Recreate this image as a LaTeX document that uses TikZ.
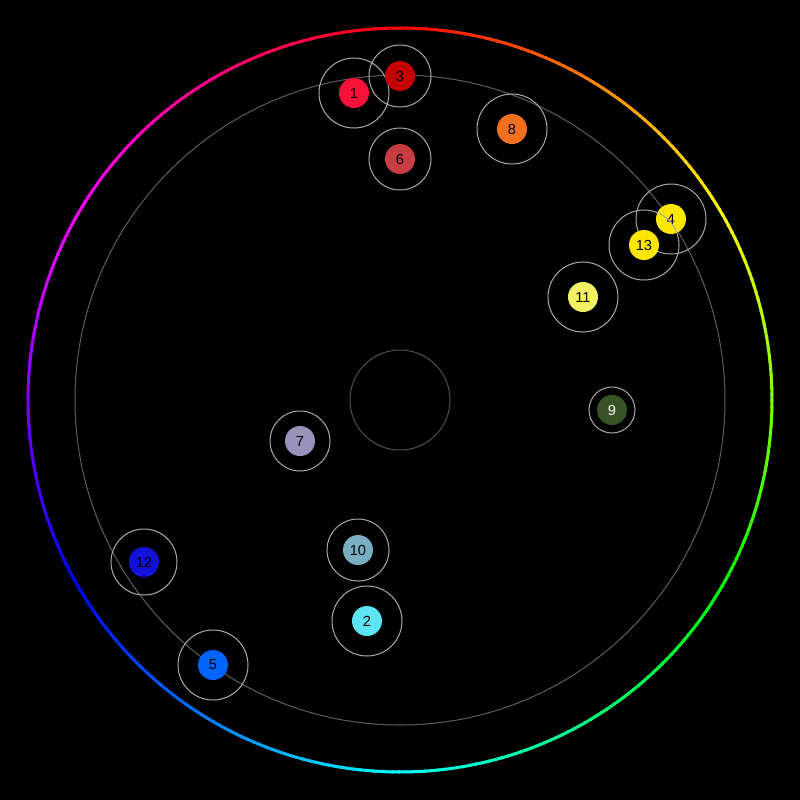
\documentclass[tikz,border=0pt]{standalone}
\usepackage{fontspec}
\setmainfont{Liberation Sans}
\usetikzlibrary{calc}
\definecolor{c1}{HTML}{F8123A}
\definecolor{c2}{HTML}{5CE4F4}
\definecolor{c3}{HTML}{C40004}
\definecolor{c4}{HTML}{FFE800}
\definecolor{c5}{HTML}{0064FF}
\definecolor{c6}{HTML}{C83C44}
\definecolor{c7}{HTML}{9A92BA}
\definecolor{c8}{HTML}{F27020}
\definecolor{c9}{HTML}{3A5228}
\definecolor{c10}{HTML}{78B0C2}
\definecolor{c11}{HTML}{F2F264}
\definecolor{c12}{HTML}{1212DA}
\definecolor{c13}{HTML}{FFE600}
\definecolor{ringgray}{HTML}{AAAAAA}
\definecolor{guidegray}{HTML}{5E5E5E}
\begin{document}
\begin{tikzpicture}[x=0.5pt, y=-0.5pt, font=\fontsize{7.3}{9}\selectfont]
\tikzstyle{dot} = [circle, draw=none, minimum size=15pt, inner sep=0pt]
\tikzstyle{ring} = [draw=ringgray, line width=0.5pt]
\tikzstyle{guide} = [draw=guidegray, line width=0.5pt]
\fill[black] (0,0) rectangle (800,800);
\coordinate (c) at (400,400);
% colour wheel
\foreach \h in {0,...,359}{
  \definecolor{hc}{Hsb}{\h,1,1}
  \draw[hc, line width=1.5pt] ($(c)+(\h-90:372)$) -- ($(c)+(\h-88.7:372)$);
}
\draw[guide] (c) circle[radius=325];
\draw[guide, draw=guidegray!85!black] (c) circle[radius=50];
% dots
\foreach \n/\x/\y/\r/\tc in {1/354/93/35/black, 2/367/621/35/black,
  3/400/76/31/black, 4/671/219/35/black, 5/213/665/35/black,
  6/400/159/31/black, 7/300/441/30/black, 8/512/129/35/black,
  9/612/410/23/white, 10/358/550/31/black, 11/583/297/35/black,
  12/144/562/33/black, 13/644/245/35/black}{
  \node[dot, fill=c\n, text=\tc] (n\n) at (\x,\y) {\n};
  \draw[ring] (n\n.center) circle[radius=\r];
}
\end{tikzpicture}
\end{document}
